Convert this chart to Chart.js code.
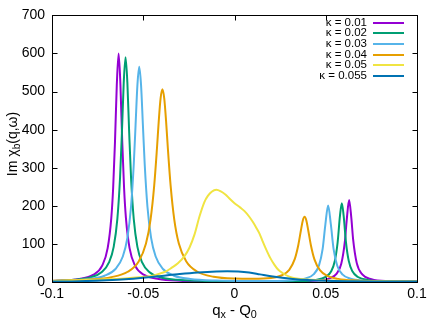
<!DOCTYPE html>
<html>
<head>
<meta charset="utf-8">
<script src="https://cdn.jsdelivr.net/npm/chart.js@4/dist/chart.umd.min.js"></script>
<style>
html,body{margin:0;padding:0;background:#fff;}
canvas{display:block;}
</style>
</head>
<body>
<canvas id="c" width="436" height="327"></canvas>
<script>
// ---- data ----
const seriesLabels = ['κ = 0.01', 'κ = 0.02', 'κ = 0.03', 'κ = 0.04', 'κ = 0.05', 'κ = 0.055'];
const seriesColors = ['#9400D3', '#009E73', '#56B4E9', '#E69F00', '#F0E442', '#0072B2'];

const xTicks = [-0.1, -0.05, 0, 0.05, 0.1];
const yTicks = [0, 100, 200, 300, 400, 500, 600, 700];

const xK001 = [-0.1, -0.085, -0.0775, -0.0725, -0.0695, -0.0675, -0.0665, -0.0655, -0.0645, -0.0635, -0.0625, -0.0615, -0.0605, -0.0595, -0.0575, -0.0545, -0.0495, -0.0415, -0.03, -0.01, 0.01, 0.03, 0.045, 0.052, 0.056, 0.0585, 0.0605, 0.0615, 0.0628, 0.064, 0.065, 0.067, 0.07, 0.075, 0.085, 0.1];
const yK001 = [2.8, 8.0, 18.5, 43, 88.8, 168.5, 246, 366, 517, 600, 517, 366, 246, 168.5, 88.8, 43, 18.5, 7.7, 3.3, 1.5, 1.1, 1.5, 3.8, 9.6, 22.1, 47.8, 107.5, 163, 215, 169, 112, 49.6, 19.9, 7.4, 2.3, 0.8];

const xK002 = [-0.1, -0.0877, -0.0787, -0.0727, -0.0687, -0.0662, -0.0642, -0.0627, -0.0617, -0.0607, -0.0597, -0.0587, -0.0577, -0.0567, -0.0552, -0.0532, -0.0507, -0.0467, -0.0407, -0.0317, -0.0197, 0, 0.02, 0.035, 0.044, 0.05, 0.053, 0.055, 0.0565, 0.0578, 0.0588, 0.0598, 0.0611, 0.0626, 0.0646, 0.0676, 0.0736, 0.085, 0.1];
const yK002 = [2.8, 5.8, 12.5, 26.2, 52, 92.3, 165, 275, 391, 523, 590, 523, 391, 275, 165, 92.3, 52, 26.2, 12.5, 6.0, 3.1, 1.7, 1.7, 2.4, 5.3, 13.5, 28.4, 55.8, 103.7, 174, 207, 174, 103.5, 55.5, 28.1, 13.2, 4.9, 1.6, 0.6];

const xK003 = [-0.1, -0.0802, -0.0712, -0.0652, -0.0612, -0.0587, -0.0567, -0.0552, -0.0542, -0.0532, -0.0522, -0.0512, -0.0502, -0.0492, -0.0477, -0.0457, -0.0432, -0.0392, -0.0332, -0.0242, -0.01, 0.005, 0.02, 0.032, 0.039, 0.0433, 0.0463, 0.0483, 0.0498, 0.0513, 0.0528, 0.0543, 0.0563, 0.0593, 0.0636, 0.0706, 0.085, 0.1];
const yK003 = [2.7, 7.7, 16.5, 34.2, 67, 115.8, 197.6, 309, 413, 517, 565, 517, 413, 309, 197.6, 115.8, 67, 34.2, 16.5, 8.0, 3.8, 2.6, 2.6, 4.5, 9.4, 19.9, 43.5, 86.8, 151.4, 201, 151, 86.2, 42.8, 19.2, 8.6, 3.6, 1.2, 0.6];

const xK004 = [-0.1, -0.0795, -0.0675, -0.0585, -0.0525, -0.0485, -0.046, -0.044, -0.0425, -0.0415, -0.0405, -0.0395, -0.0385, -0.0375, -0.0365, -0.035, -0.033, -0.0305, -0.0265, -0.0205, -0.0115, 0, 0.01, 0.02, 0.026, 0.03, 0.033, 0.035, 0.0364, 0.0374, 0.0384, 0.0394, 0.0404, 0.0418, 0.0438, 0.0468, 0.0508, 0.0568, 0.067, 0.08, 0.1];
const yK004 = [2.8, 6.3, 12.7, 26.9, 54, 101, 164, 253, 350, 423, 482, 506, 482, 423, 350, 253, 164, 101, 54.6, 27.6, 13.7, 9, 8.5, 10.5, 17.7, 32, 60, 98, 136, 161, 171, 161, 136, 98, 59.5, 31, 16.3, 8.2, 3.8, 2.0, 1.1];

const xK005 = [-0.1, -0.085, -0.07, -0.06, -0.052, -0.0455, -0.041, -0.0375, -0.0345, -0.031, -0.0274, -0.0247, -0.0219, -0.0192, -0.0165, -0.0146, -0.0125, -0.01, -0.0075, -0.005, -0.0025, 0, 0.003, 0.0055, 0.008, 0.01, 0.012, 0.0137, 0.0155, 0.0174, 0.0195, 0.0219, 0.024, 0.0265, 0.03, 0.033, 0.038, 0.045, 0.055, 0.07, 0.085, 0.1];
const yK005 = [3, 4.5, 7, 9.5, 12.5, 16, 22, 28, 37, 49, 68, 90, 125, 172, 210, 226, 237, 242, 238, 230, 218, 207, 196, 186, 172, 158, 142, 127, 106, 85, 64, 45, 32, 23, 14, 10, 7, 5, 3.5, 2.5, 2, 1.5];

const xK0055 = [-0.1, -0.085, -0.07, -0.06, -0.05, -0.04, -0.03, -0.02, -0.01, -0.004, 0.002, 0.008, 0.014, 0.02, 0.026, 0.032, 0.04, 0.05, 0.065, 0.08, 0.1];
const yK0055 = [1, 2, 4.5, 7, 11, 16, 21, 25, 27.5, 28, 27.5, 25, 20, 15, 11, 8, 5, 3, 2, 1.5, 1];

const seriesX = [xK001, xK002, xK003, xK004, xK005, xK0055];
const seriesY = [yK001, yK002, yK003, yK004, yK005, yK0055];

// ---- chart ----
const FONT = "'Liberation Sans', Arial, Helvetica, sans-serif";
const TICK_SIZE = 14;
const TITLE_SIZE = 15;
const YTITLE_SIZE = 14;
const LEGEND_SIZE = 11.5;

function drawRich(ctx, parts, cx, cy, size) {
  const subSize = size * 0.72;
  let total = 0;
  const widths = parts.map(p => {
    ctx.font = (p.sub ? subSize : size) + 'px ' + FONT;
    const w = ctx.measureText(p.t).width;
    total += w;
    return w;
  });
  let x = cx - total / 2;
  ctx.textAlign = 'left';
  ctx.textBaseline = 'middle';
  parts.forEach((p, i) => {
    ctx.font = (p.sub ? subSize : size) + 'px ' + FONT;
    ctx.fillText(p.t, x, cy + (p.sub ? size * 0.3 : 0));
    x += widths[i];
  });
}

const framePlugin = {
  id: 'frame',
  afterDraw(chart) {
    const ctx = chart.ctx;
    const a = chart.chartArea;
    const xs = chart.scales.x, ys = chart.scales.y;
    ctx.save();
    ctx.strokeStyle = '#000';
    ctx.lineWidth = 1;
    const L = Math.round(a.left) + 0.5, R = Math.round(a.right) + 0.5;
    const T = Math.round(a.top) + 0.5, B = Math.round(a.bottom) + 0.5;
    ctx.strokeRect(L, T, R - L, B - T);
    const tl = 5;
    ctx.beginPath();
    xTicks.forEach(v => {
      const px = Math.round(xs.getPixelForValue(v)) + 0.5;
      ctx.moveTo(px, B); ctx.lineTo(px, B - tl);
      ctx.moveTo(px, T); ctx.lineTo(px, T + tl);
    });
    yTicks.forEach(v => {
      const py = Math.round(ys.getPixelForValue(v)) + 0.5;
      ctx.moveTo(L, py); ctx.lineTo(L + tl, py);
      ctx.moveTo(R, py); ctx.lineTo(R - tl, py);
    });
    ctx.stroke();

    // axis titles
    ctx.fillStyle = '#000';
    drawRich(ctx, [{t: 'q'}, {t: 'x', sub: true}, {t: ' - Q'}, {t: '0', sub: true}], (a.left + a.right) / 2, 311, TITLE_SIZE);
    ctx.save();
    ctx.translate(13, 144);
    ctx.rotate(-Math.PI / 2);
    drawRich(ctx, [{t: 'Im χ'}, {t: 'b', sub: true}, {t: '(q,ω)'}], 0, 0, YTITLE_SIZE);
    ctx.restore();

    // legend (text right-aligned, line sample to the right)
    ctx.font = LEGEND_SIZE + 'px ' + FONT;
    ctx.textAlign = 'right';
    ctx.textBaseline = 'middle';
    chart.data.datasets.forEach((ds, i) => {
      const y = 22.5 + i * 10.7;
      ctx.fillStyle = '#000';
      ctx.fillText(ds.label, 367, y);
      ctx.strokeStyle = ds.borderColor;
      ctx.lineWidth = 2;
      ctx.beginPath();
      ctx.moveTo(373, Math.round(y));
      ctx.lineTo(404, Math.round(y));
      ctx.stroke();
    });
    ctx.restore();
  }
};

const datasets = seriesLabels.map((lab, i) => ({
  label: lab,
  data: seriesX[i].map((x, j) => ({x: x, y: seriesY[i][j]})),
  borderColor: seriesColors[i],
  backgroundColor: seriesColors[i],
  borderWidth: 2,
  pointRadius: 0,
  fill: false,
  cubicInterpolationMode: 'monotone',
  order: seriesLabels.length - i
}));

new Chart(document.getElementById('c'), {
  type: 'line',
  data: {datasets: datasets},
  options: {
    responsive: false,
    devicePixelRatio: 1,
    animation: false,
    layout: {padding: {top: 14, right: 19, left: 0, bottom: 0}},
    plugins: {legend: {display: false}, tooltip: {enabled: false}},
    scales: {
      x: {
        type: 'linear', min: -0.1, max: 0.1,
        afterBuildTicks: s => { s.ticks = xTicks.map(v => ({value: v})); },
        afterFit: s => { s.height = 45; },
        grid: {display: false, drawTicks: false},
        border: {display: false},
        ticks: {padding: 4, color: '#000', font: {family: FONT, size: TICK_SIZE}, maxRotation: 0, autoSkip: false, callback: v => String(v)}
      },
      y: {
        type: 'linear', min: 0, max: 700,
        afterBuildTicks: s => { s.ticks = yTicks.map(v => ({value: v})); },
        afterFit: s => { s.width = 52; },
        grid: {display: false, drawTicks: false},
        border: {display: false},
        ticks: {padding: 7, color: '#000', font: {family: FONT, size: TICK_SIZE}, autoSkip: false, callback: v => String(v)}
      }
    }
  },
  plugins: [framePlugin]
});
</script>
</body>
</html>
